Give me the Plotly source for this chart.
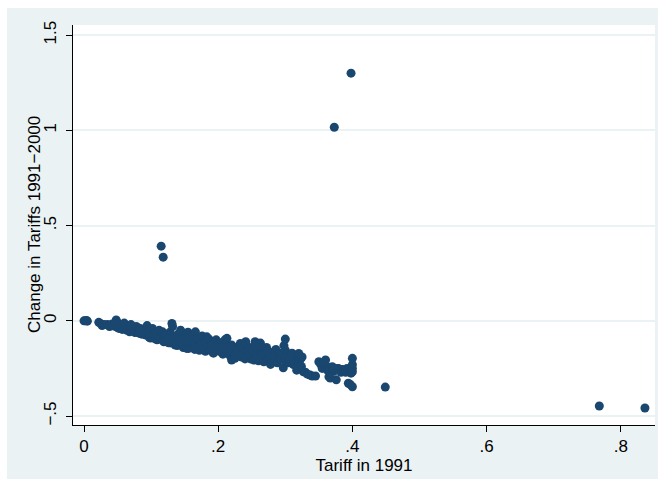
import plotly.graph_objects as go

# Tariff in 1991 (x) and change in tariffs 1991-2000 (y)
x_vals = [
    0.0, 0.002, 0.005, 0.004, 0.022, 0.025, 0.027, 0.03,
    0.035, 0.038, 0.042, 0.045, 0.048, 0.05, 0.05, 0.052, 0.055, 0.057, 0.058, 0.06,
    0.062, 0.064, 0.066, 0.068, 0.07, 0.072, 0.075, 0.076, 0.078, 0.08, 0.082, 0.084,
    0.086, 0.088, 0.09, 0.092, 0.094, 0.095, 0.097, 0.099, 0.1, 0.1,
    0.102, 0.104, 0.106, 0.108, 0.109, 0.11, 0.112, 0.114, 0.116, 0.117, 0.118, 0.119,
    0.12, 0.122, 0.124, 0.126, 0.128, 0.129, 0.13, 0.131, 0.132, 0.132,
    0.134, 0.136, 0.138, 0.139, 0.14, 0.142, 0.144, 0.145, 0.147, 0.148, 0.15, 0.151,
    0.152, 0.153, 0.155, 0.156, 0.157, 0.158, 0.16,
    0.161, 0.163, 0.165, 0.166, 0.167, 0.169, 0.17, 0.172, 0.173, 0.175, 0.176, 0.178,
    0.18, 0.181, 0.183, 0.185, 0.186, 0.188, 0.19, 0.191, 0.192, 0.193, 0.195, 0.197,
    0.198, 0.2,
    0.202, 0.204, 0.205, 0.207, 0.209, 0.21, 0.212, 0.213, 0.215, 0.216, 0.218, 0.22,
    0.22, 0.222, 0.224, 0.225, 0.227, 0.228, 0.23, 0.232, 0.233, 0.235, 0.236, 0.238,
    0.24, 0.241, 0.243, 0.245, 0.247, 0.248, 0.25,
    0.252, 0.253, 0.255, 0.256, 0.258, 0.26, 0.262, 0.263, 0.264, 0.265, 0.267, 0.268,
    0.27, 0.272, 0.274, 0.275, 0.277, 0.278, 0.28, 0.282, 0.284, 0.286, 0.288, 0.29,
    0.292, 0.294, 0.295, 0.297, 0.298, 0.3, 0.3, 0.3,
    0.303, 0.305, 0.307, 0.31, 0.312, 0.315, 0.317, 0.319, 0.32, 0.322, 0.324, 0.325,
    0.327, 0.33, 0.333, 0.337, 0.34, 0.345,
    0.35, 0.353, 0.355, 0.357, 0.36, 0.362, 0.363, 0.365, 0.367, 0.368, 0.37, 0.372,
    0.374, 0.376, 0.378, 0.379, 0.381, 0.383, 0.385, 0.387, 0.389, 0.39, 0.392, 0.394,
    0.395, 0.397, 0.398, 0.4, 0.4, 0.4, 0.4, 0.4,
    0.115, 0.118, 0.373, 0.398, 0.449, 0.768, 0.836,
]
y_vals = [
    0.0, 0.0, -0.002, 0.001, -0.008, -0.015, -0.025, -0.02,
    -0.02, -0.03, -0.017, -0.028, 0.004, -0.01, -0.035, -0.04, -0.02, -0.045, -0.03, -0.012,
    -0.025, -0.05, -0.035, -0.058, -0.02, -0.045, -0.04, -0.062, -0.03, -0.05, -0.065, -0.04,
    -0.07, -0.055, -0.045, -0.075, -0.025, -0.06, -0.085, -0.09, -0.05, -0.07,
    -0.04, -0.08, -0.095, -0.06, -0.1, -0.075, -0.05, -0.09, -0.065, -0.058, -0.105, -0.11,
    -0.08, -0.07, -0.095, -0.115, -0.06, -0.075, -0.117, -0.014, -0.09, -0.03,
    -0.1, -0.127, -0.085, -0.13, -0.07, -0.11, -0.049, -0.095, -0.12, -0.14, -0.075, -0.084,
    -0.105, -0.145, -0.06, -0.145, -0.115, -0.09, -0.13,
    -0.11, -0.07, -0.15, -0.058, -0.12, -0.095, -0.14, -0.155, -0.1, -0.125, -0.08, -0.145,
    -0.11, -0.16, -0.084, -0.13, -0.095, -0.15, -0.12, -0.11, -0.165, -0.17, -0.14, -0.1,
    -0.154, -0.127,
    -0.16, -0.115, -0.14, -0.175, -0.13, -0.1, -0.15, -0.092, -0.17, -0.13, -0.185, -0.127,
    -0.206, -0.16, -0.14, -0.197, -0.17, -0.18, -0.15, -0.13, -0.119, -0.19, -0.165, -0.145,
    -0.2, -0.11, -0.163, -0.18, -0.14, -0.2, -0.189,
    -0.16, -0.206, -0.11, -0.175, -0.15, -0.21, -0.13, -0.117, -0.19, -0.154, -0.17, -0.215,
    -0.18, -0.14, -0.2, -0.16, -0.19, -0.229, -0.17, -0.21, -0.185, -0.15, -0.22, -0.19,
    -0.17, -0.2, -0.176, -0.247, -0.13, -0.096, -0.154, -0.21,
    -0.18, -0.22, -0.197, -0.17, -0.23, -0.2, -0.259, -0.215, -0.171, -0.206, -0.24, -0.19,
    -0.268, -0.27, -0.28, -0.285, -0.29, -0.29,
    -0.215, -0.23, -0.25, -0.22, -0.206, -0.24, -0.26, -0.294, -0.3, -0.25, -0.241, -0.265,
    -0.255, -0.31, -0.25, -0.25, -0.26, -0.27, -0.255, -0.259, -0.265, -0.27, -0.25, -0.328,
    -0.26, -0.335, -0.275, -0.197, -0.23, -0.25, -0.268, -0.346,
    0.392, 0.334, 1.016, 1.30, -0.348, -0.447, -0.458,
]

x_tickvals = [0, 0.2, 0.4, 0.6, 0.8]
x_ticktext = ["0", ".2", ".4", ".6", ".8"]
y_tickvals = [-0.5, 0, 0.5, 1, 1.5]
y_ticktext = ["\u2212.5", "0", ".5", "1", "1.5"]

W, H = 661, 485
ml, mr, mt, mb = 73, 6, 25, 60
pw, ph = W - ml - mr, H - mt - mb

def px_to_paper_x(px):
    return (px - ml) / pw

def px_to_paper_y(py):
    return (H - mb - py) / ph

fig = go.Figure()
fig.add_trace(go.Scatter(
    x=x_vals, y=y_vals, mode="markers",
    marker=dict(color="#1a476f", size=9, line=dict(width=0)),
    showlegend=False, hoverinfo="x+y",
))

font_family = "Liberation Sans, Arial, sans-serif"

fig.update_layout(
    width=W, height=H,
    margin=dict(l=ml, r=mr, t=mt, b=mb, pad=0),
    paper_bgcolor="white",
    plot_bgcolor="white",
    font=dict(family=font_family, size=17, color="#000000"),
    shapes=[
        dict(type="rect", xref="paper", yref="paper", layer="below",
             x0=px_to_paper_x(7), x1=px_to_paper_x(658),
             y0=px_to_paper_y(479), y1=px_to_paper_y(8),
             fillcolor="#eaf2f3", line=dict(width=0)),
        dict(type="rect", xref="paper", yref="paper", layer="below",
             x0=0, x1=1, y0=0, y1=1,
             fillcolor="white", line=dict(width=0)),
    ],
    annotations=[
        dict(text="Change in Tariffs 1991\u22122000", xref="paper", yref="paper",
             x=px_to_paper_x(34), y=0.5, xanchor="center", yanchor="middle",
             textangle=-90, showarrow=False, font=dict(size=17)),
    ],
    xaxis=dict(
        range=[-0.0164, 0.851],
        tickmode="array", tickvals=x_tickvals, ticktext=x_ticktext,
        ticks="outside", ticklen=6, tickwidth=1, tickcolor="#000000",
        showgrid=False, zeroline=False,
        showline=True, linecolor="#000000", linewidth=1,
        tickfont=dict(size=17),
        title=dict(text="Tariff in 1991", font=dict(size=17), standoff=1),
    ),
    yaxis=dict(
        range=[-0.547, 1.553],
        tickmode="array", tickvals=y_tickvals, ticktext=y_ticktext,
        tickangle=-90,
        ticks="outside", ticklen=6, tickwidth=1, tickcolor="#000000",
        ticklabelstandoff=3,
        showgrid=True, gridcolor="#eaf2f3", gridwidth=1.5,
        zeroline=False,
        showline=True, linecolor="#000000", linewidth=1,
        tickfont=dict(size=17),
    ),
)

fig.write_html("out.html")
